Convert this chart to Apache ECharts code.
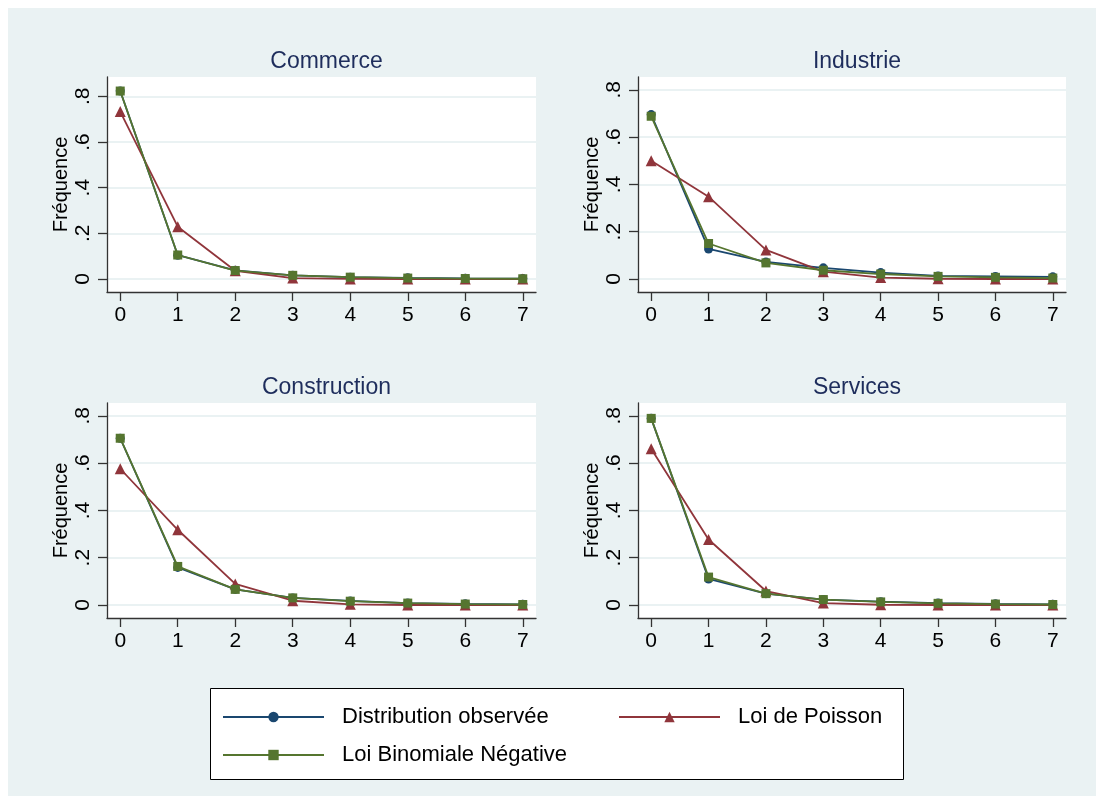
<!DOCTYPE html>
<html>
<head>
<meta charset="utf-8">
<script src="https://cdn.jsdelivr.net/npm/echarts@6/dist/echarts.min.js"></script>
<style>html,body{margin:0;padding:0;background:#fff;}#c{width:1096px;height:796px;}</style>
</head>
<body>
<div id="c"></div>
<script>
// ---- data ----
const counts = [0, 1, 2, 3, 4, 5, 6, 7];
const panels = ['Commerce', 'Industrie', 'Construction', 'Services'];
const seriesNames = ['Distribution observée', 'Loi de Poisson', 'Loi Binomiale Négative'];
const yTicks = [0, 0.2, 0.4, 0.6, 0.8];
const yTickLabels = ['0', '.2', '.4', '.6', '.8'];

const commerceObs     = [0.823, 0.104, 0.038, 0.016, 0.008, 0.005, 0.003, 0.002];
const commercePoisson = [0.733, 0.229, 0.036, 0.004, 0.0004, 0.0, 0.0, 0.0];
const commerceNB      = [0.823, 0.105, 0.037, 0.016, 0.008, 0.004, 0.002, 0.001];

const industrieObs     = [0.695, 0.127, 0.072, 0.047, 0.027, 0.013, 0.011, 0.009];
const industriePoisson = [0.500, 0.348, 0.123, 0.031, 0.006, 0.001, 0.0, 0.0];
const industrieNB      = [0.688, 0.150, 0.068, 0.037, 0.021, 0.011, 0.007, 0.004];

const constructionObs     = [0.705, 0.159, 0.066, 0.030, 0.017, 0.008, 0.005, 0.003];
const constructionPoisson = [0.576, 0.318, 0.089, 0.018, 0.003, 0.0, 0.0, 0.0];
const constructionNB      = [0.705, 0.163, 0.066, 0.030, 0.016, 0.008, 0.004, 0.002];

const servicesObs     = [0.789, 0.110, 0.048, 0.023, 0.014, 0.008, 0.005, 0.003];
const servicesPoisson = [0.661, 0.277, 0.059, 0.008, 0.001, 0.0, 0.0, 0.0];
const servicesNB      = [0.789, 0.118, 0.048, 0.023, 0.013, 0.007, 0.004, 0.002];

const panelData = [
  [commerceObs, commercePoisson, commerceNB],
  [industrieObs, industriePoisson, industrieNB],
  [constructionObs, constructionPoisson, constructionNB],
  [servicesObs, servicesPoisson, servicesNB]
];

// ---- layout / style ----
const FONT = '"Liberation Sans", Arial, Helvetica, sans-serif';
const colors = ['#1a476f', '#90353b', '#55752f'];
const symbols = ['circle', 'triangle', 'rect'];
const symbolSizes = [9, 11, 9];
const bg = '#eaf2f3';
const grids = [
  {left: 107, top: 77, width: 429, height: 215},
  {left: 638, top: 77, width: 428, height: 215},
  {left: 107, top: 403, width: 429, height: 215},
  {left: 638, top: 403, width: 428, height: 215}
];
const yRanges = [[-0.057, 0.8845], [-0.055, 0.854], [-0.055, 0.854], [-0.055, 0.854]];

const legendText = {fontFamily: FONT, fontSize: 22, color: '#000', lineHeight: 24, padding: [0, 0, 0, 13]};

const option = {
  animation: false,
  backgroundColor: '#ffffff',
  textStyle: {fontFamily: FONT},
  graphic: [
    {type: 'rect', z: -10, shape: {x: 8, y: 8, width: 1088, height: 788}, style: {fill: bg}},
    {type: 'rect', z: -5, shape: {x: 210.5, y: 688.5, width: 693, height: 91}, style: {fill: '#fff', stroke: '#000', lineWidth: 1}}
  ],
  title: panels.map((p, i) => ({
    text: p,
    left: grids[i].left + grids[i].width / 2,
    top: grids[i].top - 32,
    textAlign: 'center',
    textStyle: {fontFamily: FONT, fontSize: 23, fontWeight: 'normal', color: '#1e2d5c'}
  })),
  legend: [
    {
      orient: 'vertical', left: 222, top: 705, padding: 0, itemWidth: 101, itemHeight: 13, itemGap: 14,
      data: [seriesNames[0], seriesNames[2]],
      textStyle: legendText
    },
    {
      orient: 'vertical', left: 618, top: 705, padding: 0, itemWidth: 101, itemHeight: 13, itemGap: 14,
      data: [seriesNames[1]],
      textStyle: legendText
    }
  ],
  grid: grids.map(g => Object.assign({show: true, backgroundColor: '#fff', borderWidth: 0}, g)),
  xAxis: grids.map((g, i) => ({
    type: 'value', gridIndex: i, min: -0.23, max: 7.23,
    axisLine: {show: true, onZero: false, lineStyle: {color: '#333', width: 1.3}},
    axisTick: {show: true, length: 9, customValues: counts, lineStyle: {color: '#333', width: 1.3}},
    axisLabel: {customValues: counts, fontSize: 21, color: '#000', margin: 13, fontFamily: FONT},
    splitLine: {show: false}
  })),
  yAxis: grids.map((g, i) => ({
    type: 'value', gridIndex: i, min: yRanges[i][0], max: yRanges[i][1],
    name: 'Fréquence', nameLocation: 'middle', nameRotate: 90, nameGap: 36,
    nameTextStyle: {fontSize: 20, color: '#000', fontFamily: FONT},
    axisLine: {show: true, onZero: false, lineStyle: {color: '#333', width: 1.3}},
    axisTick: {show: true, length: 9, customValues: yTicks, lineStyle: {color: '#333', width: 1.3}},
    axisLabel: {
      customValues: yTicks, rotate: 90, fontSize: 21, color: '#000', margin: 13, fontFamily: FONT,
      formatter: v => { const k = yTicks.findIndex(t => Math.abs(t - v) < 1e-6); return k >= 0 ? yTickLabels[k] : ''; }
    },
    splitLine: {show: true, lineStyle: {color: bg, width: 2}}
  })),
  series: []
};

panelData.forEach((arrs, pi) => {
  arrs.forEach((vals, si) => {
    option.series.push({
      name: seriesNames[si], type: 'line', xAxisIndex: pi, yAxisIndex: pi,
      data: counts.map((c, k) => [c, vals[k]]),
      symbol: symbols[si], symbolSize: symbolSizes[si], showAllSymbol: true,
      itemStyle: {color: colors[si]},
      lineStyle: {color: colors[si], width: 1.8},
      z: 2 + si
    });
  });
});

const chart = echarts.init(document.getElementById('c'), null, {renderer: 'canvas'});
chart.setOption(option);
</script>
</body>
</html>
